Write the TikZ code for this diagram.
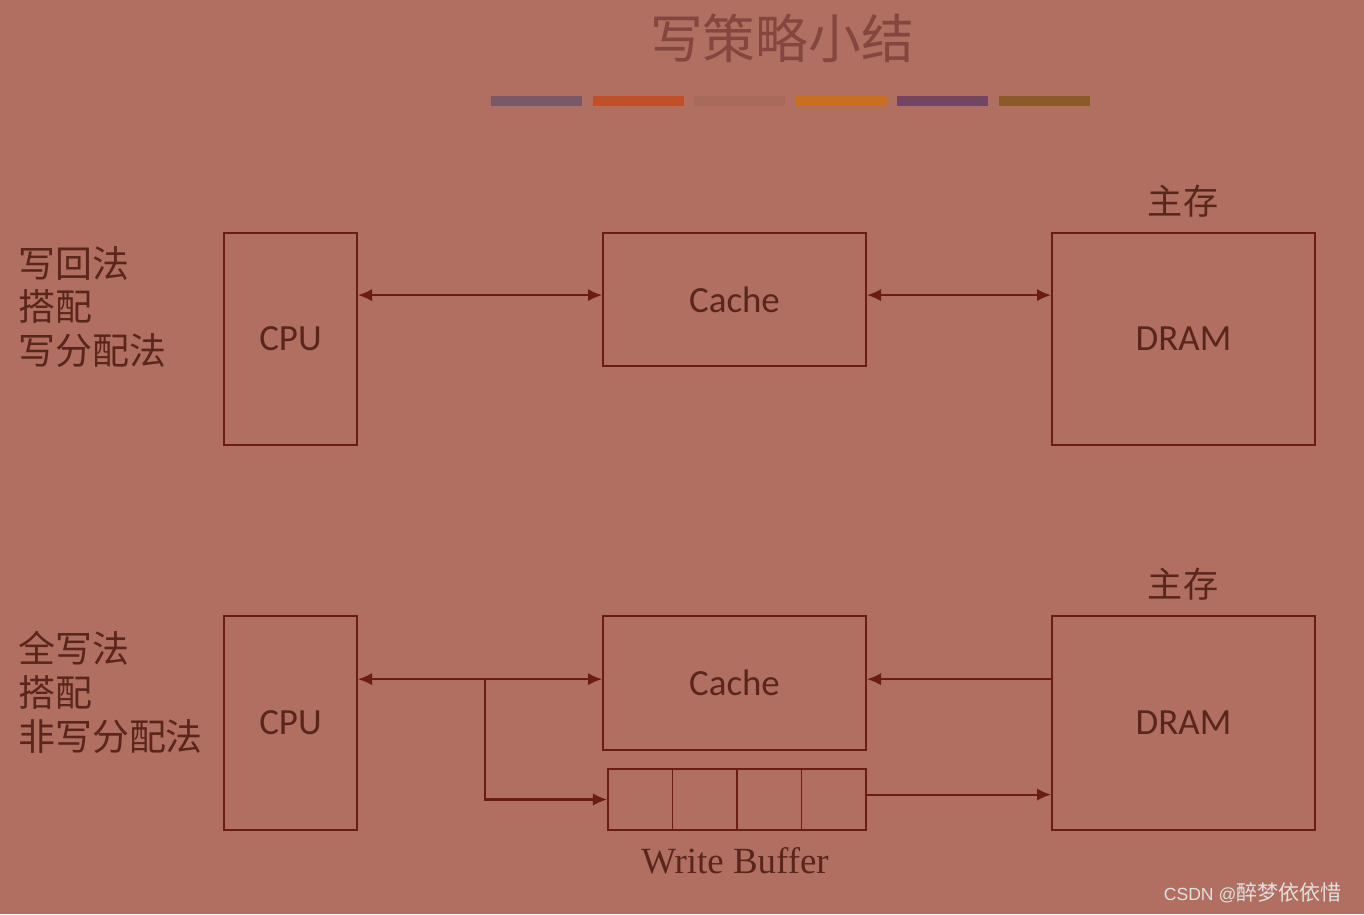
\documentclass[tikz,border=0pt]{standalone}
\usepackage{fontspec}
\setmainfont{Liberation Serif}
\newfontfamily\cjk{Noto Sans CJK SC}
\newfontfamily\boxfont{Carlito}
\usetikzlibrary{arrows.meta,positioning,calc}
\definecolor{SlideBg}{HTML}{B06F60}
\definecolor{LineRed}{HTML}{6A1E12}
\definecolor{TextDark}{HTML}{5A261C}
\definecolor{TitleGrey}{HTML}{84463F}
\definecolor{BarA}{HTML}{7A5868}
\definecolor{BarB}{HTML}{C0502A}
\definecolor{BarC}{HTML}{A86A5A}
\definecolor{BarD}{HTML}{C87020}
\definecolor{BarE}{HTML}{734560}
\definecolor{BarF}{HTML}{8C5A2A}

\begin{document}
\begin{tikzpicture}[x=0.02cm,y=-0.02cm,
    unit/.style={draw=LineRed,line width=1.1pt,text=TextDark,inner sep=0pt,font=\boxfont\fontsize{21}{25}\selectfont},
    cell/.style={draw=LineRed,line width=1.1pt,minimum width=1.29cm,minimum height=1.22cm,inner sep=0pt},
    link/.style={LineRed,line width=1.2pt},
    tip/.style={-{Latex[length=8pt,width=7pt]}},
    both/.style={{Latex[length=8pt,width=7pt]}-{Latex[length=8pt,width=7pt]}},
    side/.style={anchor=west,align=left,inner sep=0pt,text=TextDark,font=\cjk\fontsize{21}{25}\selectfont},
    mem/.style={text=TextDark,font=\cjk\fontsize{20}{24}\selectfont}]
        \fill[SlideBg] (0,0) rectangle (1364,914);
        \useasboundingbox (0,0) rectangle (1364,914);
        % title and colour bars
        \node[text=TitleGrey,font=\cjk\fontsize{30}{34}\selectfont] (title) at (782,38) {写策略小结};
        \foreach \c [count=\i from 0] in {BarA,BarB,BarC,BarD,BarE,BarF}
            \fill[\c] ({491+\i*101.6},96) rectangle ++(91,10);
        % write back + write allocate
        \node[side] (labA) at (18,307) {写回法\\搭配\\写分配法};
        \node[unit,minimum width=2.66cm,minimum height=4.24cm] (cpuA) at (290.5,339) {CPU};
        \node[unit,minimum width=5.26cm,minimum height=2.66cm] (cacheA) at (734.5,299.5) {Cache};
        \node[unit,minimum width=5.26cm,minimum height=4.24cm] (dramA) at (1183.5,339) {DRAM};
        \node[mem] (memA) at (1183,201) {主存};
        \draw[link,both] ([yshift=2.5pt]cpuA.east|-cacheA.west) -- ([yshift=2.5pt]cacheA.west);
        \draw[link,both] ([yshift=2.5pt]cacheA.east) -- ([yshift=2.5pt]dramA.west|-cacheA.east);
        % write through + no write allocate
        \node[side] (labB) at (18,692) {全写法\\搭配\\非写分配法};
        \node[unit,minimum width=2.66cm,minimum height=4.28cm] (cpuB) at (290.5,723) {CPU};
        \node[unit,minimum width=5.26cm,minimum height=2.68cm] (cacheB) at (734.5,683) {Cache};
        \node[unit,minimum width=5.26cm,minimum height=4.28cm] (dramB) at (1183.5,723) {DRAM};
        \node[mem] (memB) at (1183,584) {主存};
        \node[cell] (wb1) at (640.25,799.5) {};
        \node[cell] (wb2) at (704.75,799.5) {};
        \node[cell] (wb3) at (769.25,799.5) {};
        \node[cell] (wb4) at (833.75,799.5) {};
        \node[text=TextDark,font=\fontsize{21}{25}\selectfont] (wbname) at (735,861) {Write Buffer};
        \coordinate (split) at (485,679);
        \draw[link,both] ([yshift=2.2pt]cpuB.east|-cacheB.west) -- ([yshift=2.2pt]cacheB.west);
        \draw[link,tip] (split) |- (wb1.west);
        \draw[link,tip] ([yshift=2.2pt]dramB.west|-cacheB.east) -- ([yshift=2.2pt]cacheB.east);
        \draw[link,tip] ([yshift=2.8pt]wb4.east) -- ([yshift=2.8pt]dramB.west|-wb4.east);
        % watermark
        \node[anchor=east,text=black!12,font=\cjk\fontsize{12}{14}\selectfont] (mark) at (1348,893) {{\fontspec{Liberation Sans}\fontsize{10}{12}\selectfont CSDN @}醉梦依依惜};
\end{tikzpicture}
\end{document}
